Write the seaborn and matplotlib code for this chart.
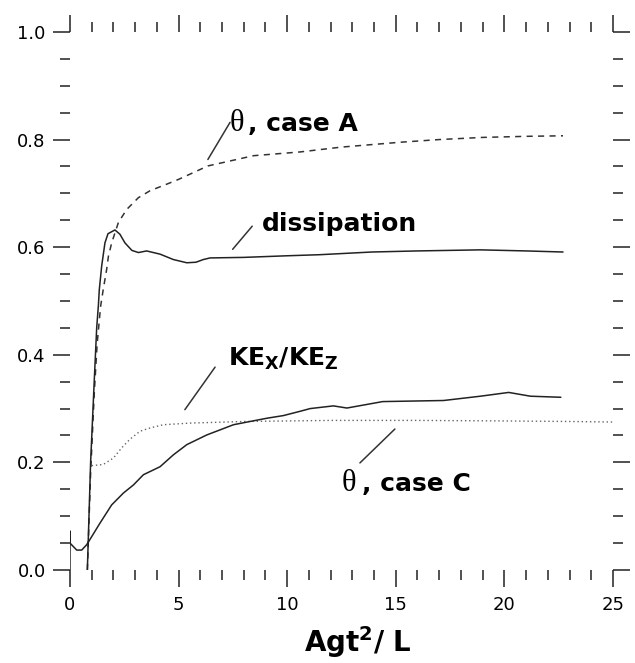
import matplotlib
matplotlib.use('Agg')
import matplotlib.pyplot as plt
import seaborn as sns
from matplotlib.ticker import MultipleLocator

sns.set_style('white')
plt.rcParams['font.family'] = ['DejaVu Sans']
plt.rcParams['mathtext.fontset'] = 'dejavusans'
plt.rcParams['text.color'] = 'black'
plt.rcParams['axes.labelcolor'] = 'black'
plt.rcParams['xtick.color'] = 'black'
plt.rcParams['ytick.color'] = 'black'

# ---- data ----
theta_a_x = [0.8, 0.95, 1.12, 1.25, 1.41, 1.53, 1.69, 1.77, 1.92, 2.23, 2.61, 3.15,
             3.69, 4.45, 5.0, 6.35, 8.45, 10.6, 12.5, 15.2, 17.0, 19.0, 21.0, 22.7]
theta_a_y = [0.0, 0.18, 0.33, 0.42, 0.49, 0.521, 0.559, 0.583, 0.608, 0.646, 0.67, 0.692,
             0.705, 0.717, 0.726, 0.751, 0.770, 0.777, 0.786, 0.795, 0.800, 0.804, 0.806, 0.807]

diss_x = [0.8, 0.95, 1.12, 1.23, 1.31, 1.35, 1.46, 1.61, 1.75, 2.07, 2.3, 2.53, 2.85,
          3.15, 3.53, 4.15, 4.76, 5.38, 5.8, 6.14, 6.45, 8.0, 10.0, 11.5, 13.9, 16.0,
          18.9, 21.0, 22.7]
diss_y = [0.0, 0.2, 0.354, 0.45, 0.493, 0.521, 0.565, 0.608, 0.625, 0.632, 0.624, 0.608,
          0.594, 0.59, 0.593, 0.587, 0.577, 0.571, 0.572, 0.577, 0.58, 0.581, 0.584,
          0.586, 0.591, 0.593, 0.595, 0.593, 0.591]

ke_x = [1.0, 1.53, 2.0, 2.38, 2.76, 3.23, 3.69, 4.3, 5.53, 8.0, 12.0, 16.0, 20.0, 23.0, 25.0]
ke_y = [0.194, 0.196, 0.208, 0.227, 0.243, 0.258, 0.264, 0.27, 0.273, 0.276, 0.278,
        0.278, 0.277, 0.276, 0.275]

theta_c_x = [0, 0, 0, 0.31, 0.54, 0.77, 1.0, 1.38, 1.92, 2.46, 2.92, 3.38, 4.15, 4.76,
             5.38, 6.3, 7.53, 8.29, 9.06, 9.83, 10.6, 11.06, 12.13, 12.75, 14.4, 17.2,
             18.9, 20.2, 21.2, 22.6]
theta_c_y = [0.0, 0.072, 0.05, 0.037, 0.037, 0.047, 0.062, 0.087, 0.121, 0.143, 0.158,
             0.177, 0.192, 0.214, 0.233, 0.251, 0.27, 0.276, 0.282, 0.287, 0.295, 0.3,
             0.305, 0.301, 0.313, 0.315, 0.323, 0.33, 0.323, 0.321]

fig = plt.figure(figsize=(6.35, 6.63), dpi=100)
ax = fig.add_axes([0.1102, 0.1403, 0.8551, 0.8115])

kw = dict(ax=ax, estimator=None, sort=False, legend=False)
sns.lineplot(x=theta_a_x, y=theta_a_y, color='#333333', lw=1.1, linestyle=(0, (4, 3.5)), **kw)
sns.lineplot(x=diss_x, y=diss_y, color='#222222', lw=1.1, **kw)
sns.lineplot(x=ke_x, y=ke_y, color='#666666', lw=1.0, linestyle=(0, (1, 2)), **kw)
sns.lineplot(x=theta_c_x, y=theta_c_y, color='#222222', lw=1.1, **kw)

ax.set_xlim(0, 25)
ax.set_ylim(0, 1)
for s in ax.spines.values():
    s.set_visible(False)
ax.xaxis.set_major_locator(MultipleLocator(5))
ax.xaxis.set_minor_locator(MultipleLocator(1))
ax.yaxis.set_major_locator(MultipleLocator(0.2))
ax.yaxis.set_minor_locator(MultipleLocator(0.05))
ax.yaxis.set_major_formatter(matplotlib.ticker.FormatStrFormatter('%.1f'))
ax.tick_params(which='both', direction='out', top=True, right=True, bottom=True, left=True,
               labeltop=False, labelright=False, color='#222222', width=1.1)
ax.tick_params(which='major', length=12.5, labelsize=13, labelcolor='black')
ax.tick_params(which='minor', length=7.5)
ax.tick_params(axis='y', which='major', pad=5)
ax.tick_params(axis='x', which='major', pad=6)

lab = dict(fontsize=18, fontweight='bold', va='baseline', ha='left', color='black')
theta = dict(fontsize=22, family=['Liberation Serif'], va='baseline', ha='left', color='black')
line = dict(color='#333333', lw=1.1)

# theta, case A
ax.plot([6.35, 7.37], [0.763, 0.832], **line)
ax.text(7.37, 0.816, 'θ', **theta)
ax.text(8.19, 0.816, ', case A', **lab)

# dissipation
ax.plot([7.49, 8.39], [0.596, 0.639], **line)
ax.text(8.83, 0.630, 'dissipation', **lab)

# KEx/KEz
ax.plot([5.29, 6.68], [0.298, 0.377], **line)
ax.text(7.28, 0.380, r'$\mathbf{KE_X/KE_Z}$', **lab)

# theta, case C
ax.plot([13.35, 14.96], [0.199, 0.262], **line)
ax.text(12.52, 0.146, 'θ', **theta)
ax.text(13.43, 0.146, ', case C', **lab)

ax.set_xlabel(r'$\mathbf{Agt^2/\ L}$', fontsize=20, color='black')
ax.xaxis.set_label_coords(0.529, -0.1)

fig.savefig('out.png', dpi=100)
